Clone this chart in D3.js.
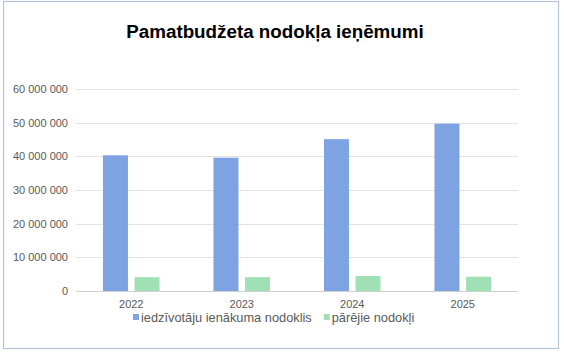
<!DOCTYPE html>
<html>
<head>
<meta charset="utf-8">
<script src="https://cdn.jsdelivr.net/npm/d3@7"></script>
<style>
    body { margin: 0; background: #fff; }
    text { font-family: "Liberation Sans", Arial, sans-serif; }
</style>
</head>
<body>
<div id="chart"></div>
<script>
// Chart data
const years = ["2022", "2023", "2024", "2025"];
const seriesNames = ["iedzīvotāju ienākuma nodoklis", "pārējie nodokļi"];
const incomeTax = [40300000, 39600000, 45100000, 49700000];
const otherTaxes = [4100000, 4100000, 4450000, 4250000];
const yTicks = [0, 10000000, 20000000, 30000000, 40000000, 50000000, 60000000];
const colors = ["#7ea3e2", "#9fe0b4"];

const W = 564, H = 353;
const margin = {top: 89, right: 46, bottom: 62, left: 76};
const width = W - margin.left - margin.right;
const height = H - margin.top - margin.bottom;

const svg = d3.select("#chart")
    .append("svg")
    .attr("width", W)
    .attr("height", H);

// Outer border
svg.append("rect")
    .attr("x", 3.5)
    .attr("y", 1.5)
    .attr("width", 555)
    .attr("height", 347)
    .attr("fill", "#fff")
    .attr("stroke", "#b8c4de")
    .attr("stroke-width", 1.2);

// Title
svg.append("text")
    .attr("x", 275)
    .attr("y", 38)
    .attr("text-anchor", "middle")
    .style("font-size", "18.8px")
    .style("font-weight", "bold")
    .style("fill", "#000")
    .text("Pamatbudžeta nodokļa ieņēmumi");

const g = svg.append("g")
    .attr("transform", "translate(" + margin.left + "," + margin.top + ")");

// Scales
const x = d3.scaleBand()
    .domain(years)
    .range([0, width]);

const y = d3.scaleLinear()
    .domain([0, 60000000])
    .range([height, 0]);

const fmt = d => d3.format(",")(d).replace(/,/g, " ");

// Gridlines
g.append("g")
    .selectAll("line")
    .data(yTicks)
    .enter()
    .append("line")
    .attr("x1", 0)
    .attr("x2", width)
    .attr("y1", d => Math.round(y(d)) + 0.5)
    .attr("y2", d => Math.round(y(d)) + 0.5)
    .attr("stroke", d => d === 0 ? "#d0d0d0" : "#e3e3e3")
    .attr("stroke-width", 1);

// Y axis labels
const yAxis = g.append("g")
    .attr("transform", "translate(-8,0)")
    .call(d3.axisLeft(y).tickValues(yTicks).tickFormat(fmt).tickSize(0));
yAxis.select(".domain").remove();
yAxis.selectAll("text")
    .attr("x", 0)
    .style("font-family", "'Liberation Sans', Arial, sans-serif")
    .style("font-size", "11px")
    .style("fill", "#595959");

// X axis labels
const xAxis = g.append("g")
    .attr("transform", "translate(0," + height + ")")
    .call(d3.axisBottom(x).tickSize(0));
xAxis.select(".domain").remove();
xAxis.selectAll("text")
    .attr("y", 9)
    .style("font-family", "'Liberation Sans', Arial, sans-serif")
    .style("font-size", "11px")
    .style("fill", "#595959");

// Bars
const barW = x.bandwidth() * 0.226;
const gap = 6.6;
const series = [incomeTax, otherTaxes];

series.forEach(function (values, si) {
    g.append("g")
        .selectAll("rect")
        .data(years)
        .enter()
        .append("rect")
        .attr("x", (d, i) => x(d) + x.bandwidth() / 2 - barW - gap / 2 + si * (barW + gap))
        .attr("y", (d, i) => y(values[i]))
        .attr("width", barW)
        .attr("height", (d, i) => height - y(values[i]))
        .attr("fill", colors[si]);
});

// Legend
const legend = svg.append("g")
    .attr("transform", "translate(133,322)");

let lx = 0;
seriesNames.forEach(function (name, i) {
    const item = legend.append("g")
        .attr("transform", "translate(" + lx + ",0)");
    item.append("rect")
        .attr("x", 0)
        .attr("y", -8)
        .attr("width", 6)
        .attr("height", 6)
        .attr("fill", colors[i]);
    const t = item.append("text")
        .attr("x", 8)
        .attr("y", 0)
        .style("font-size", "12.8px")
        .style("fill", "#595959")
        .text(name);
    lx += 8 + t.node().getComputedTextLength() + 12;
});
</script>
</body>
</html>
